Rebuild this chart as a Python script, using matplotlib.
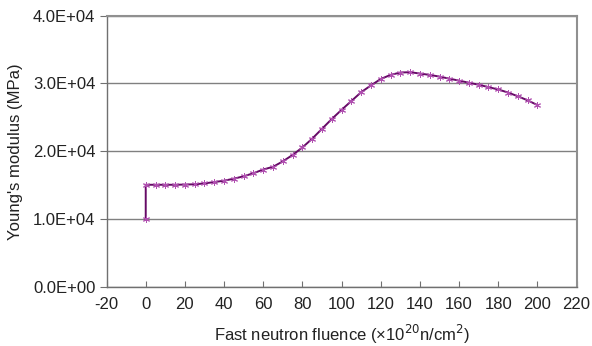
import matplotlib
matplotlib.use("Agg")
import matplotlib.pyplot as plt
from matplotlib.ticker import FuncFormatter

fluence = [0, 0, 5, 10, 15, 20, 25, 30, 35, 40, 45, 50, 55, 60, 65, 70, 75, 80, 85, 90,
           95, 100, 105, 110, 115, 120, 125, 130, 135, 140, 145, 150, 155, 160, 165,
           170, 175, 180, 185, 190, 195, 200]
modulus = [10000, 15050, 15050, 15050, 15050, 15080, 15120, 15250, 15450, 15650, 15950,
           16300, 16750, 17300, 17700, 18500, 19450, 20550, 21850, 23300, 24750, 26100,
           27400, 28700, 29700, 30650, 31250, 31600, 31650, 31450, 31250, 31000, 30700,
           30400, 30100, 29800, 29450, 29100, 28650, 28100, 27500, 26800]

xticks = list(range(-20, 221, 20))
yticks = [0, 10000, 20000, 30000, 40000]

plt.rcParams['font.family'] = ['Liberation Sans', 'DejaVu Sans']
plt.rcParams['axes.unicode_minus'] = False

fig = plt.figure(figsize=(5.92, 3.46), dpi=100)
ax = fig.add_axes([0.18, 0.171, 0.794, 0.784])

ax.plot(fluence, modulus, color='#660a66', lw=1.4, marker=(6, 2, 0), ms=5,
        mec='#b050b0', mew=0.7, zorder=3)

ax.set_xlim(-20, 220)
ax.set_ylim(0, 40000)
ax.set_xticks(xticks)
ax.set_xticklabels([str(t) for t in xticks])
ax.set_yticks(yticks)
ax.yaxis.set_major_formatter(FuncFormatter(lambda v, p: f"{v:.1E}"))
ax.grid(axis='y', color='#808080', lw=1.0)
ax.set_axisbelow(True)

for s in ['left', 'bottom']:
    ax.spines[s].set_color('#707070')
    ax.spines[s].set_linewidth(1.0)
for s in ['top', 'right']:
    ax.spines[s].set_color('#909090')
    ax.spines[s].set_linewidth(1.5)

ax.tick_params(axis='x', direction='in', length=4, color='#707070', labelsize=12, pad=7,
               labelcolor='#222222')
ax.tick_params(axis='y', direction='out', length=5, color='#707070', labelsize=12, pad=3,
               labelcolor='#222222')

ax.set_xlabel("Fast neutron fluence (×10$^{20}$n/cm$^{2}$)", fontsize=12, labelpad=8,
              color='#222222')
ax.set_ylabel("Young's modulus (MPa)", fontsize=12, labelpad=7, color='#222222')

fig.savefig("out.png", dpi=100)
